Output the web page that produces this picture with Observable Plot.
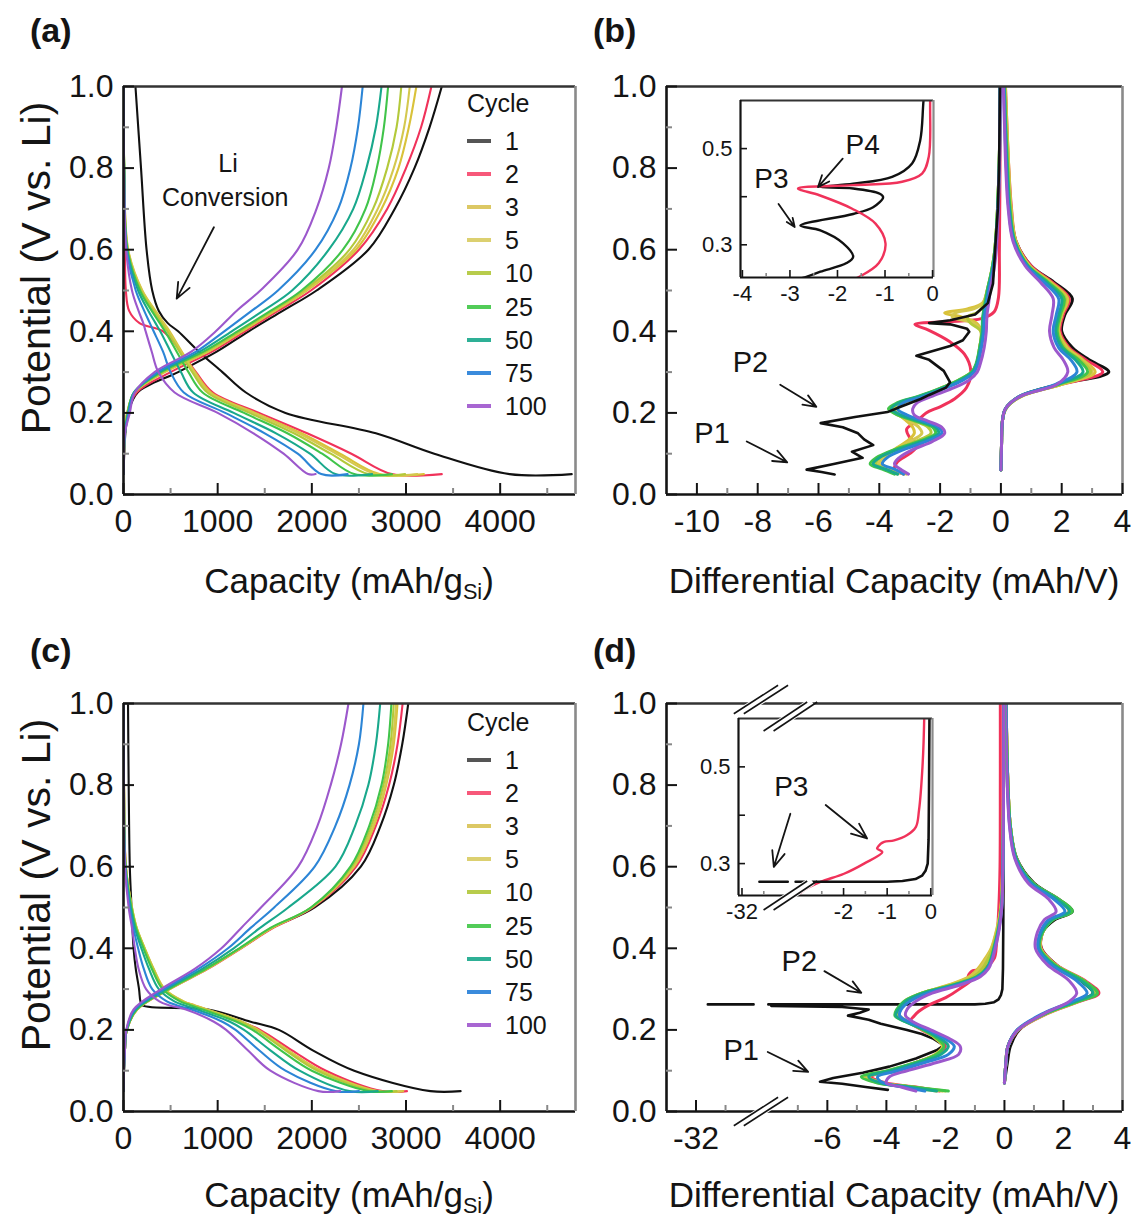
<!DOCTYPE html>
<html><head><meta charset="utf-8">
<script src="https://cdn.jsdelivr.net/npm/d3@7"></script>
<script src="https://cdn.jsdelivr.net/npm/@observablehq/plot@0.6"></script>
<style>
body{margin:0;background:#fff;}
#root{position:relative;width:1134px;height:1221px;overflow:hidden;font-family:"Liberation Sans",Arial,Helvetica,sans-serif;color:#141414;}
.abs{position:absolute;white-space:nowrap;line-height:1;}
.plab{font-weight:bold;font-size:34px;}
.xt{font-size:35px;transform:translateX(-50%);}
.xt sub{font-size:0.62em;vertical-align:-0.28em;line-height:0;}
.yt{font-size:41px;transform:translate(-50%,-50%) rotate(-90deg);}
.lg{font-size:25px;transform:translateY(-50%);}
.sw{position:absolute;height:4px;width:24px;transform:translateY(-50%);}
svg{position:absolute;}
</style></head><body><div id="root"></div>
<script>
// ---------------- data ----------------
const CYCLES = [1, 2, 3, 5, 10, 25, 50, 75, 100];
const COLORS = ["#111111", "#f0325a", "#d9c23a", "#d4c84e", "#b3c93a", "#40c44a", "#19a88c", "#2c85d6", "#9c58cc"];
const LEGEND_COLORS = ["#555555", "#f7587a", "#dcc864", "#dcd070", "#b8cc4c", "#52cc58", "#2eb096", "#3a8bdc", "#a866d2"];

// (a) capacity, lithiation: capacity (mAh/g) at each potential, then the hold at 0.05 V
const A_LITH_V = [1.0, 0.8, 0.6, 0.5, 0.45, 0.42, 0.4, 0.35, 0.3, 0.25, 0.2, 0.15, 0.1, 0.05];
const A_LITH_CAP = [
  [127, 186, 245, 305, 375, 470, 580, 800, 1050, 1300, 1720, 2680, 3300, 4100],
  [0, 5, 15, 25, 60, 170, 420, 610, 770, 950, 1440, 1950, 2420, 2850],
  [0, 8, 50, 200, 340, 430, 490, 620, 760, 930, 1400, 1890, 2300, 2720],
  [0, 8, 48, 195, 335, 420, 480, 610, 750, 915, 1380, 1860, 2260, 2680],
  [0, 8, 45, 185, 320, 405, 465, 595, 730, 890, 1340, 1810, 2200, 2600],
  [0, 8, 42, 175, 300, 385, 440, 565, 690, 840, 1280, 1740, 2110, 2450],
  [0, 7, 38, 155, 265, 340, 390, 500, 610, 740, 1170, 1620, 1980, 2250],
  [0, 6, 33, 130, 220, 280, 320, 420, 500, 640, 1080, 1500, 1850, 2100],
  [0, 5, 28, 90, 160, 210, 235, 300, 370, 543, 1000, 1380, 1700, 1960]
];
const A_LITH_HOLD = [4760, 3380, 3190, 3120, 2990, 2850, 2640, 2380, 2040];
const A_DELI_V = [0.05, 0.1, 0.15, 0.2, 0.25, 0.3, 0.35, 0.4, 0.45, 0.5, 0.6, 0.7, 0.8, 0.9, 1.0];
const A_DELI_CAP = [
  [0, 8, 20, 50, 150, 580, 990, 1330, 1690, 2050, 2600, 2880, 3090, 3250, 3380],
  [0, 6, 15, 40, 140, 500, 940, 1290, 1640, 1990, 2500, 2800, 3000, 3160, 3270],
  [0, 5, 15, 40, 120, 440, 900, 1260, 1610, 1950, 2470, 2740, 2920, 3030, 3110],
  [0, 5, 15, 40, 120, 430, 890, 1250, 1600, 1935, 2440, 2700, 2870, 2980, 3040],
  [0, 5, 15, 40, 115, 420, 870, 1235, 1580, 1915, 2400, 2650, 2800, 2900, 2950],
  [0, 5, 15, 45, 110, 400, 850, 1210, 1560, 1890, 2330, 2570, 2690, 2765, 2810],
  [0, 5, 15, 50, 110, 380, 810, 1150, 1480, 1790, 2180, 2440, 2580, 2680, 2740],
  [0, 5, 15, 55, 115, 360, 770, 1070, 1360, 1640, 2040, 2280, 2410, 2490, 2540],
  [0, 5, 15, 67, 120, 330, 720, 980, 1200, 1453, 1850, 2050, 2180, 2260, 2320]
];

// (c) capacity
const C_LITH_V = [1.0, 0.8, 0.6, 0.5, 0.45, 0.4, 0.35, 0.3, 0.27, 0.26, 0.25, 0.22, 0.2, 0.15, 0.1, 0.05];
const C_LITH_CAP = [
  [48, 55, 67, 85, 95, 107, 130, 165, 180, 200, 900, 1350, 1650, 2010, 2450, 3260],
  [0, 5, 25, 85, 135, 220, 315, 430, 630, 750, 880, 1250, 1450, 1790, 2150, 2750],
  [0, 5, 25, 90, 140, 226, 320, 440, 640, 760, 890, 1260, 1430, 1750, 2100, 2700],
  [0, 5, 25, 90, 140, 225, 318, 435, 635, 750, 880, 1250, 1420, 1740, 2080, 2680],
  [0, 5, 24, 88, 138, 222, 314, 430, 625, 740, 870, 1240, 1410, 1720, 2060, 2650],
  [0, 5, 22, 84, 132, 212, 300, 415, 600, 715, 840, 1200, 1370, 1670, 2000, 2600],
  [0, 4, 20, 76, 120, 190, 270, 375, 540, 650, 780, 1130, 1280, 1560, 1870, 2400],
  [0, 4, 18, 66, 105, 155, 215, 305, 460, 570, 720, 1050, 1190, 1440, 1720, 2250],
  [0, 3, 15, 55, 90, 120, 160, 240, 380, 490, 663, 960, 1090, 1320, 1560, 2070]
];
const C_LITH_HOLD = [3580, 3010, 2970, 2950, 2900, 2850, 2700, 2500, 2300];
const C_DELI_V = [0.05, 0.1, 0.15, 0.2, 0.25, 0.3, 0.35, 0.4, 0.45, 0.5, 0.6, 0.7, 0.8, 0.9, 1.0];
const C_DELI_CAP = [
  [0, 5, 15, 35, 140, 470, 880, 1240, 1580, 2030, 2520, 2730, 2870, 2960, 3024],
  [0, 5, 15, 35, 145, 490, 900, 1250, 1590, 2010, 2470, 2680, 2820, 2910, 2964],
  [0, 5, 15, 35, 145, 490, 895, 1245, 1580, 2000, 2450, 2660, 2790, 2870, 2910],
  [0, 5, 15, 35, 145, 485, 890, 1240, 1575, 1995, 2440, 2650, 2780, 2855, 2895],
  [0, 5, 15, 35, 142, 482, 885, 1235, 1568, 1992, 2425, 2630, 2760, 2835, 2870],
  [0, 5, 15, 35, 140, 480, 880, 1230, 1560, 1990, 2410, 2610, 2740, 2810, 2845],
  [0, 5, 15, 33, 130, 455, 840, 1170, 1450, 1750, 2250, 2460, 2600, 2680, 2726],
  [0, 5, 15, 31, 118, 430, 800, 1110, 1350, 1600, 2030, 2250, 2400, 2500, 2548],
  [0, 5, 15, 30, 107, 400, 760, 1040, 1250, 1460, 1855, 2060, 2200, 2310, 2389]
];

// (b) differential capacity, delithiation (positive), all cycles
const B_DELI_V = [0.06, 0.12, 0.18, 0.21, 0.24, 0.27, 0.3, 0.33, 0.36, 0.4, 0.44, 0.48, 0.52, 0.56, 0.62, 0.7, 0.8, 0.9, 1.0];
const B_DELI_Q = [
  [0.0, 0.02, 0.05, 0.15, 0.6, 1.9, 3.55, 2.9, 2.35, 2.0, 2.1, 2.35, 1.75, 1.0, 0.5, 0.32, 0.22, 0.16, 0.12],
  [0.0, 0.02, 0.05, 0.16, 0.65, 2.0, 3.35, 2.8, 2.25, 1.95, 2.05, 2.25, 1.7, 1.0, 0.5, 0.35, 0.26, 0.2, 0.15],
  [0.0, 0.02, 0.05, 0.16, 0.65, 2.0, 3.1, 2.7, 2.2, 1.9, 2.0, 2.2, 1.65, 0.95, 0.5, 0.34, 0.26, 0.2, 0.15],
  [0.0, 0.02, 0.05, 0.16, 0.65, 2.0, 3.0, 2.65, 2.15, 1.9, 2.0, 2.15, 1.6, 0.95, 0.48, 0.33, 0.25, 0.19, 0.14],
  [0.0, 0.02, 0.05, 0.16, 0.65, 1.95, 2.95, 2.6, 2.1, 1.88, 1.98, 2.12, 1.6, 0.92, 0.47, 0.32, 0.24, 0.18, 0.13],
  [0.0, 0.02, 0.05, 0.15, 0.62, 1.9, 2.85, 2.55, 2.05, 1.85, 1.95, 2.08, 1.55, 0.9, 0.46, 0.3, 0.22, 0.16, 0.12],
  [0.0, 0.02, 0.05, 0.15, 0.6, 1.85, 2.7, 2.45, 2.0, 1.8, 1.9, 2.0, 1.5, 0.88, 0.45, 0.28, 0.2, 0.15, 0.11],
  [0.0, 0.02, 0.05, 0.15, 0.6, 1.8, 2.5, 2.3, 1.9, 1.72, 1.82, 1.9, 1.42, 0.85, 0.42, 0.26, 0.18, 0.13, 0.1],
  [0.0, 0.02, 0.05, 0.15, 0.62, 1.85, 2.2, 2.05, 1.75, 1.6, 1.68, 1.72, 1.3, 0.8, 0.4, 0.24, 0.16, 0.12, 0.08]
];
// (b) lithiation (negative), cycles 3..100 on a common potential grid
const B_LITH_CYCLES = [3, 5, 10, 25, 50, 75, 100];
const B_LITH_V = [1.0, 0.8, 0.6, 0.55, 0.5, 0.47, 0.455, 0.445, 0.435, 0.42, 0.4, 0.36, 0.32, 0.3, 0.28, 0.26, 0.24, 0.225, 0.21, 0.195, 0.18, 0.165, 0.15, 0.13, 0.11, 0.09, 0.075, 0.062, 0.05];
const B_LITH_Q = [
  [-0.03, -0.06, -0.2, -0.3, -0.45, -0.6, -1.1, -1.85, -1.3, -0.8, -0.65, -0.7, -0.8, -0.95, -1.35, -1.95, -2.6, -3.2, -3.5, -3.35, -3.1, -2.9, -2.85, -3.1, -3.5, -3.8, -3.9, -3.6, -3.1],
  [-0.03, -0.06, -0.2, -0.3, -0.45, -0.58, -0.9, -1.5, -1.6, -0.9, -0.65, -0.7, -0.8, -0.95, -1.38, -2.0, -2.65, -3.3, -3.6, -3.35, -3.0, -2.7, -2.6, -3.0, -3.5, -3.9, -4.0, -3.7, -3.2],
  [-0.03, -0.06, -0.2, -0.3, -0.45, -0.55, -0.65, -0.8, -1.1, -1.0, -0.66, -0.7, -0.8, -0.96, -1.4, -2.0, -2.7, -3.35, -3.65, -3.4, -2.85, -2.4, -2.3, -2.8, -3.5, -4.0, -4.1, -3.8, -3.4],
  [-0.03, -0.06, -0.2, -0.3, -0.45, -0.52, -0.56, -0.58, -0.6, -0.61, -0.62, -0.7, -0.82, -0.96, -1.4, -2.0, -2.75, -3.4, -3.7, -3.4, -2.8, -2.25, -2.15, -2.7, -3.5, -4.1, -4.3, -3.9, -3.5],
  [-0.03, -0.06, -0.19, -0.29, -0.43, -0.5, -0.54, -0.56, -0.58, -0.59, -0.6, -0.68, -0.8, -0.93, -1.35, -1.95, -2.7, -3.35, -3.6, -3.3, -2.7, -2.15, -2.05, -2.6, -3.4, -4.0, -4.2, -3.8, -3.4],
  [-0.03, -0.05, -0.17, -0.26, -0.4, -0.46, -0.5, -0.52, -0.54, -0.55, -0.56, -0.64, -0.76, -0.88, -1.25, -1.85, -2.55, -3.2, -3.4, -3.1, -2.55, -2.05, -1.95, -2.45, -3.2, -3.75, -3.9, -3.5, -3.2],
  [-0.02, -0.05, -0.15, -0.23, -0.35, -0.4, -0.43, -0.45, -0.46, -0.47, -0.48, -0.55, -0.68, -0.78, -1.05, -1.6, -2.3, -2.75, -2.9, -2.85, -2.4, -1.95, -1.85, -2.25, -2.9, -3.35, -3.5, -3.3, -3.04]
];
// (b) lithiation, cycle 1 and cycle 2: [potential, dQ/dV]
const B_LITH_C1 = [[1.0,-0.03],[0.8,-0.06],[0.7,-0.1],[0.6,-0.19],[0.517,-0.26],[0.469,-0.43],[0.441,-0.85],[0.427,-1.67],[0.42,-2.36],[0.417,-1.67],[0.406,-1.11],[0.399,-1.04],[0.378,-1.25],[0.364,-1.67],[0.34,-2.78],[0.33,-2.36],[0.303,-1.88],[0.275,-1.67],[0.262,-1.81],[0.244,-2.36],[0.234,-2.64],[0.215,-3.3],[0.202,-3.73],[0.19,-4.8],[0.175,-5.93],[0.165,-5.2],[0.15,-4.7],[0.135,-4.5],[0.121,-4.2],[0.105,-4.9],[0.09,-4.55],[0.075,-5.5],[0.061,-6.39],[0.055,-5.9],[0.049,-5.47]];
const B_LITH_C2 = [[1.0,-0.02],[0.8,-0.03],[0.6,-0.05],[0.483,-0.08],[0.448,-0.22],[0.431,-0.64],[0.424,-1.67],[0.417,-2.83],[0.403,-2.38],[0.375,-1.69],[0.344,-1.2],[0.303,-0.99],[0.262,-1.13],[0.234,-1.53],[0.215,-2.0],[0.2,-2.46],[0.18,-2.75],[0.16,-3.1],[0.14,-3.0],[0.12,-2.75],[0.1,-3.0],[0.08,-3.4],[0.062,-3.5],[0.05,-3.2]];

// (d) differential capacity
const D_DELI_V = [0.07, 0.12, 0.16, 0.2, 0.24, 0.27, 0.29, 0.32, 0.36, 0.4, 0.44, 0.47, 0.49, 0.52, 0.56, 0.62, 0.7, 0.8, 0.9, 1.0];
const D_DELI_Q = [
  [0.0, 0.1, 0.2, 0.5, 1.35, 2.4, 3.0, 2.6, 1.75, 1.25, 1.3, 1.7, 2.3, 1.85, 1.0, 0.42, 0.2, 0.12, 0.08, 0.05],
  [0.0, 0.05, 0.12, 0.48, 1.45, 2.55, 3.2, 2.75, 1.75, 1.25, 1.3, 1.6, 2.2, 1.8, 0.95, 0.4, 0.2, 0.12, 0.08, 0.06],
  [0.0, 0.05, 0.12, 0.46, 1.42, 2.5, 3.1, 2.7, 1.72, 1.22, 1.3, 1.6, 2.2, 1.8, 0.95, 0.4, 0.2, 0.12, 0.08, 0.06],
  [0.0, 0.05, 0.12, 0.46, 1.42, 2.5, 3.1, 2.7, 1.72, 1.22, 1.3, 1.62, 2.25, 1.82, 0.96, 0.4, 0.2, 0.12, 0.08, 0.06],
  [0.0, 0.05, 0.12, 0.46, 1.42, 2.5, 3.1, 2.7, 1.72, 1.22, 1.3, 1.63, 2.25, 1.83, 0.96, 0.4, 0.2, 0.12, 0.08, 0.06],
  [0.0, 0.05, 0.12, 0.45, 1.4, 2.5, 3.15, 2.7, 1.7, 1.2, 1.3, 1.65, 2.3, 1.85, 0.97, 0.41, 0.2, 0.12, 0.08, 0.06],
  [0.0, 0.05, 0.12, 0.44, 1.36, 2.4, 3.0, 2.6, 1.65, 1.18, 1.27, 1.6, 2.2, 1.78, 0.93, 0.39, 0.19, 0.11, 0.07, 0.05],
  [0.0, 0.05, 0.12, 0.43, 1.3, 2.3, 2.8, 2.45, 1.58, 1.14, 1.22, 1.5, 2.05, 1.68, 0.88, 0.37, 0.18, 0.1, 0.07, 0.05],
  [0.0, 0.05, 0.12, 0.45, 1.35, 2.2, 2.45, 2.2, 1.45, 1.05, 1.12, 1.35, 1.75, 1.5, 0.8, 0.35, 0.17, 0.1, 0.06, 0.04]
];
const D_LITH_CYCLES = [3, 5, 10, 25, 50, 75, 100];
const D_LITH_V = [1.0, 0.8, 0.6, 0.5, 0.45, 0.4, 0.37, 0.35, 0.33, 0.31, 0.29, 0.27, 0.25, 0.235, 0.22, 0.2, 0.18, 0.16, 0.14, 0.12, 0.1, 0.085, 0.07, 0.06, 0.05];
const D_LITH_Q = [
  [-0.02, -0.03, -0.06, -0.12, -0.25, -0.45, -0.7, -0.9, -1.2, -1.9, -2.8, -3.35, -3.55, -3.55, -3.25, -2.75, -2.35, -2.1, -2.35, -3.0, -3.85, -4.6, -4.1, -3.2, -2.3],
  [-0.02, -0.03, -0.06, -0.12, -0.24, -0.43, -0.65, -0.85, -1.15, -1.85, -2.8, -3.37, -3.58, -3.6, -3.28, -2.75, -2.33, -2.08, -2.33, -3.0, -3.9, -4.7, -4.2, -3.15, -2.1],
  [-0.02, -0.03, -0.06, -0.11, -0.22, -0.4, -0.58, -0.75, -1.05, -1.8, -2.8, -3.4, -3.62, -3.66, -3.3, -2.75, -2.32, -2.06, -2.32, -3.0, -3.95, -4.8, -4.25, -3.1, -2.0],
  [-0.02, -0.03, -0.05, -0.1, -0.2, -0.36, -0.48, -0.62, -0.95, -1.75, -2.8, -3.4, -3.65, -3.71, -3.35, -2.75, -2.3, -2.05, -2.3, -3.0, -3.95, -4.85, -4.3, -3.1, -1.9],
  [-0.02, -0.03, -0.05, -0.1, -0.19, -0.35, -0.46, -0.6, -0.92, -1.7, -2.75, -3.35, -3.6, -3.68, -3.35, -2.7, -2.2, -1.9, -2.15, -2.9, -3.85, -4.6, -4.2, -3.3, -2.3],
  [-0.02, -0.03, -0.05, -0.09, -0.18, -0.33, -0.44, -0.57, -0.88, -1.6, -2.6, -3.2, -3.5, -3.55, -3.25, -2.6, -2.05, -1.7, -1.9, -2.7, -3.6, -4.3, -4.1, -3.4, -2.7],
  [-0.02, -0.03, -0.05, -0.09, -0.17, -0.31, -0.42, -0.54, -0.82, -1.5, -2.45, -3.0, -3.3, -3.35, -3.1, -2.5, -1.9, -1.5, -1.55, -2.3, -3.3, -3.9, -4.0, -3.5, -3.0]
];
// cycle 1 in (d): the spike at 0.26 V runs out to about -32 mAh/V (null = gap in the trace)
const D_LITH_C1 = [[1.0,-0.03],[0.8,-0.03],[0.6,-0.03],[0.45,-0.04],[0.35,-0.05],[0.3,-0.07],[0.285,-0.12],[0.275,-0.2],[0.268,-0.35],[0.264,-0.65],[0.2625,-1.0],[0.2625,-3.1],[0.2625,-8.0],[0.2625,null],[0.2625,-30.05],[0.2625,-30.95],[0.2625,-31.6],[0.26,null],[0.259,-7.9],[0.256,-5.5],[0.25,-4.6],[0.242,-4.9],[0.235,-5.3],[0.225,-4.6],[0.215,-4.19],[0.2,-3.3],[0.19,-2.8],[0.178,-2.4],[0.162,-2.05],[0.15,-2.3],[0.13,-3.0],[0.11,-3.9],[0.095,-4.8],[0.082,-5.8],[0.073,-6.25],[0.068,-5.5],[0.06,-4.7],[0.053,-3.95]];
const D_LITH_C2 = [[1.0,-0.14],[0.8,-0.14],[0.6,-0.15],[0.5,-0.19],[0.41,-0.27],[0.376,-0.34],[0.359,-0.54],[0.348,-0.84],[0.345,-1.07],[0.34,-1.16],[0.331,-1.23],[0.324,-1.11],[0.3,-1.53],[0.279,-1.99],[0.262,-2.53],[0.245,-2.91],[0.234,-3.06],[0.22,-3.2],[0.2,-2.8],[0.18,-2.3],[0.16,-2.0],[0.14,-2.3],[0.12,-3.0],[0.1,-3.85],[0.085,-4.5],[0.07,-4.0],[0.06,-3.0],[0.05,-2.2]];

// tick values and labels
const Y_MAJOR = [0, 0.2, 0.4, 0.6, 0.8, 1.0];
const Y_MINOR = [0.1, 0.3, 0.5, 0.7, 0.9];
const CAP_MAJOR = [0, 1000, 2000, 3000, 4000];
const CAP_MINOR = [500, 1500, 2500, 3500, 4500];
const B_MAJOR = [-10, -8, -6, -4, -2, 0, 2, 4];
const B_MINOR = [-9, -7, -5, -3, -1, 1, 3];
const D_MAJOR = [-32, -6, -4, -2, 0, 2, 4];
const D_MINOR = [-31, -7, -5, -3, -1, 1, 3];
const BI_MAJOR = [-4, -3, -2, -1, 0];
const BI_MINOR = [-3.5, -2.5, -1.5, -0.5];
const DI_MAJOR = [-32, -2, -1, 0];
const DI_MINOR = [-31.5, -2.5, -1.5, -0.5];
const INSET_Y = [0.3, 0.4, 0.5];
const INSET_Y_LABELS = ["0.3", "", "0.5"];

// annotations
const A_TEXT = [{t: "Li", x: 1110, y: 0.81}, {t: "Conversion", x: 1080, y: 0.727}];
const A_ARROWS = [{x1: 960, y1: 0.655, x2: 565, y2: 0.48}];
const B_TEXT = [{t: "P2", x: -8.24, y: 0.322}, {t: "P1", x: -9.5, y: 0.15}];
const B_ARROWS = [{x1: -7.26, y1: 0.269, x2: -6.07, y2: 0.215}, {x1: -8.36, y1: 0.13, x2: -7.03, y2: 0.079}];
const BI_TEXT = [{t: "P4", x: -1.47, y: 0.507}, {t: "P3", x: -3.39, y: 0.437}];
const BI_ARROWS = [{x1: -1.89, y1: 0.479, x2: -2.41, y2: 0.42}, {x1: -3.24, y1: 0.385, x2: -2.9, y2: 0.337}];
const D_TEXT = [{t: "P2", x: -6.95, y: 0.368}, {t: "P1", x: -8.92, y: 0.15}];
const D_ARROWS = [{x1: -6.1, y1: 0.344, x2: -4.85, y2: 0.291}, {x1: -8.02, y1: 0.146, x2: -6.65, y2: 0.097}];
const DI_TEXT = [{t: "P3", x: -3.2, y: 0.459}];
const DI_ARROWS = [{x1: -3.22, y1: 0.403, x2: -3.6, y2: 0.293}, {x1: -2.41, y1: 0.421, x2: -1.46, y2: 0.352}];

// ---------------- helpers ----------------
const FONT = '"Liberation Sans", Arial, Helvetica, sans-serif';
const INK = "#141414";
// broken-axis positions for (d) and its inset
const mainD = v => (v == null ? NaN : v <= -20 ? v + 21.55 : v);
const insetD = v => (v == null ? NaN : v <= -30.9 ? v + 27.67 : v < -3.12 ? NaN : v);

function capRows(LV, LQ, HOLD, DV, DQ) {
  const rows = [];
  CYCLES.forEach((c, i) => {
    LV.forEach((v, j) => rows.push({id: "L" + c, cycle: c, q: LQ[i][j], v}));
    rows.push({id: "L" + c, cycle: c, q: HOLD[i], v: LV[LV.length - 1]});
    DV.forEach((v, j) => rows.push({id: "D" + c, cycle: c, q: DQ[i][j], v}));
  });
  return rows;
}
function gridRows(prefix, V, Q, cycles) {
  const rows = [];
  Q.forEach((arr, i) => arr.forEach((q, j) => rows.push({id: prefix + cycles[i], cycle: cycles[i], q, v: V[j]})));
  return rows;
}
const pairRows = (id, cycle, pairs) => pairs.map(([v, q]) => ({id, cycle, q, v}));

function axisMarks({xMajor, xMinor, xFmt, yMajor, yMinor, yFmt, fs, majLen, minLen, padX, padY, sw}) {
  return [
    Plot.axisX({ticks: xMinor, tickSize: -minLen, tickFormat: () => "", stroke: "#888", strokeWidth: sw, label: null}),
    Plot.axisX({ticks: xMajor, tickSize: -majLen, tickFormat: () => "", stroke: INK, strokeWidth: sw, label: null}),
    Plot.axisX({ticks: xMajor, tickSize: 0, tickPadding: padX, tickFormat: xFmt, fontSize: fs, fill: INK, label: null}),
    Plot.axisY({ticks: yMinor, tickSize: -minLen, tickFormat: () => "", stroke: "#888", strokeWidth: sw, label: null}),
    Plot.axisY({ticks: yMajor, tickSize: -majLen, tickFormat: () => "", stroke: INK, strokeWidth: sw, label: null}),
    Plot.axisY({ticks: yMajor, tickSize: 0, tickPadding: padY, tickFormat: yFmt, fontSize: fs, fill: INK, label: null})
  ];
}
function frameMarks(xd, yd, w) {
  return [
    Plot.ruleY([yd[0]], {stroke: INK, strokeWidth: w}),
    Plot.ruleY([yd[1]], {stroke: "#333", strokeWidth: w}),
    Plot.ruleX([xd[0]], {stroke: INK, strokeWidth: w}),
    Plot.ruleX([xd[1]], {stroke: "#8a8a8a", strokeWidth: w})
  ];
}
function breakMarks(x, y, hw, hh, dy = 0) {
  const seg = [{x1: x - hw, y1: y - hh, x2: x + hw, y2: y + hh}];
  const o = {x1: "x1", y1: "y1", x2: "x2", y2: "y2", dy};
  return [
    Plot.link(seg, {...o, stroke: "white", strokeWidth: 9}),
    Plot.link(seg, {...o, stroke: INK, strokeWidth: 1.6, dx: -5}),
    Plot.link(seg, {...o, stroke: INK, strokeWidth: 1.6, dx: 5})
  ];
}
function noteMarks(texts, arrows, fs) {
  return [
    Plot.text(texts, {x: "x", y: "y", text: "t", fontSize: fs, fill: INK}),
    Plot.arrow(arrows, {x1: "x1", y1: "y1", x2: "x2", y2: "y2", stroke: INK, strokeWidth: 1.8, headLength: 14, headAngle: 45})
  ];
}
const fmt1 = d => d.toFixed(1);

function mainPlot({xDomain, xMajor, xMinor, xFmt, marks, width, mL, mR, extra = []}) {
  return Plot.plot({
    width, height: 580, marginLeft: mL, marginRight: mR, marginTop: 46, marginBottom: 126,
    x: {domain: xDomain}, y: {domain: [0, 1]},
    color: {domain: CYCLES, range: COLORS},
    style: {fontFamily: FONT, color: INK, background: "transparent", overflow: "visible"},
    marks: [
      ...marks,
      ...frameMarks(xDomain, [0, 1], 2.6),
      ...axisMarks({xMajor, xMinor, xFmt, yMajor: Y_MAJOR, yMinor: Y_MINOR, yFmt: fmt1, fs: 32, majLen: 11, minLen: 6, padX: 15, padY: 10, sw: 2}),
      ...extra
    ]
  });
}
function insetPlot({xDomain, yDomain, xMajor, xMinor, xFmt, marks, width, height, mL, mR, mT, mB, extra = []}) {
  return Plot.plot({
    width, height, marginLeft: mL, marginRight: mR, marginTop: mT, marginBottom: mB,
    x: {domain: xDomain}, y: {domain: yDomain},
    color: {domain: CYCLES, range: COLORS},
    style: {fontFamily: FONT, color: INK, background: "transparent", overflow: "visible"},
    marks: [
      Plot.frame({fill: "white", stroke: null}),
      ...marks,
      ...frameMarks(xDomain, yDomain, 2.2),
      ...axisMarks({xMajor, xMinor, xFmt, yMajor: INSET_Y, yMinor: [], yFmt: d => INSET_Y_LABELS[INSET_Y.indexOf(d)], fs: 22, majLen: 7, minLen: 4, padX: 8, padY: 8, sw: 1.6}),
      ...extra
    ]
  });
}
const capLine = rows => Plot.line(rows, {x: "q", y: "v", z: "id", stroke: "cycle", strokeWidth: 2.1, curve: "catmull-rom", clip: true});

// ---------------- build ----------------
const root = document.getElementById("root");
function place(svg, left, top) { svg.style.left = left + "px"; svg.style.top = top + "px"; root.appendChild(svg); }
function div(cls, html, left, top, extraStyle = "") {
  const d = document.createElement("div");
  d.className = "abs " + cls; d.innerHTML = html;
  d.style.cssText += `left:${left}px;top:${top}px;${extraStyle}`;
  root.appendChild(d); return d;
}

// (a)
place(mainPlot({
  xDomain: [0, 4800], xMajor: CAP_MAJOR, xMinor: CAP_MINOR, xFmt: d => String(d), width: 585, mL: 123, mR: 10,
  marks: [capLine(capRows(A_LITH_V, A_LITH_CAP, A_LITH_HOLD, A_DELI_V, A_DELI_CAP))],
  extra: noteMarks(A_TEXT, A_ARROWS, 25)
}), 0, 40);

// (c)
place(mainPlot({
  xDomain: [0, 4800], xMajor: CAP_MAJOR, xMinor: CAP_MINOR, xFmt: d => String(d), width: 585, mL: 123, mR: 10,
  marks: [capLine(capRows(C_LITH_V, C_LITH_CAP, C_LITH_HOLD, C_DELI_V, C_DELI_CAP))]
}), 0, 657);

// (b)
const bColored = [
  ...gridRows("D", B_DELI_V, B_DELI_Q, CYCLES),
  ...pairRows("L2", 2, B_LITH_C2),
  ...gridRows("L", B_LITH_V, B_LITH_Q, B_LITH_CYCLES)
];
const bBlack = pairRows("L1", 1, B_LITH_C1);
place(mainPlot({
  xDomain: [-11, 4], xMajor: B_MAJOR, xMinor: B_MINOR, xFmt: d => String(d), width: 570, mL: 106, mR: 8,
  marks: [
    Plot.line(bColored, {x: "q", y: "v", z: "id", stroke: "cycle", strokeWidth: 3, curve: "catmull-rom", clip: true}),
    Plot.line(bBlack, {x: "q", y: "v", z: "id", stroke: "cycle", strokeWidth: 2.6, curve: "linear", clip: true})
  ],
  extra: noteMarks(B_TEXT, B_ARROWS, 29)
}), 560, 40);

// (b) inset
place(insetPlot({
  xDomain: [-4.04, 0.02], yDomain: [0.232, 0.6], xMajor: BI_MAJOR, xMinor: BI_MINOR, xFmt: d => String(d),
  width: 262, height: 226, mL: 50, mR: 19, mT: 10, mB: 39,
  marks: [
    Plot.line(bBlack, {x: "q", y: "v", z: "id", stroke: "cycle", strokeWidth: 2.4, curve: "catmull-rom", clip: true}),
    Plot.line(pairRows("L2", 2, B_LITH_C2), {x: "q", y: "v", z: "id", stroke: "cycle", strokeWidth: 2.4, curve: "catmull-rom", clip: true})
  ],
  extra: noteMarks(BI_TEXT, BI_ARROWS, 28)
}), 690, 90);

// (d)
const dColored = [
  ...gridRows("D", D_DELI_V, D_DELI_Q, CYCLES),
  ...pairRows("L2", 2, D_LITH_C2),
  ...gridRows("L", D_LITH_V, D_LITH_Q, D_LITH_CYCLES)
];
const dBlack = pairRows("L1", 1, D_LITH_C1);
const dLabel = new Map(D_MAJOR.map(v => [mainD(v), String(v)]));
place(mainPlot({
  xDomain: [-11.45, 4], xMajor: D_MAJOR.map(mainD), xMinor: D_MINOR.map(mainD), xFmt: d => dLabel.get(d), width: 570, mL: 106, mR: 8,
  marks: [
    Plot.line(dBlack, {x: d => mainD(d.q), y: "v", z: "id", stroke: "cycle", strokeWidth: 2.6, curve: "linear", clip: true}),
    Plot.line(dColored, {x: d => mainD(d.q), y: "v", z: "id", stroke: "cycle", strokeWidth: 3, curve: "catmull-rom", clip: true})
  ],
  extra: [...breakMarks(-8.25, 0, 0.75, 0.035), ...breakMarks(-8.25, 1, 0.75, 0.035, -4), ...noteMarks(D_TEXT, D_ARROWS, 29)]
}), 560, 657);

// (d) inset
const diLabel = new Map(DI_MAJOR.map(v => [insetD(v), String(v)]));
place(insetPlot({
  xDomain: [-4.41, 0.04], yDomain: [0.234, 0.6], xMajor: DI_MAJOR.map(insetD), xMinor: DI_MINOR.map(insetD), xFmt: d => diLabel.get(d),
  width: 262, height: 236, mL: 50, mR: 18, mT: 18, mB: 41,
  marks: [
    Plot.line(pairRows("L2", 2, D_LITH_C2), {x: d => insetD(d.q), y: "v", z: "id", stroke: "cycle", strokeWidth: 2.4, curve: "catmull-rom", clip: true}),
    Plot.line(dBlack, {x: d => insetD(d.q), y: "v", z: "id", stroke: "cycle", strokeWidth: 2.6, curve: "linear", clip: true})
  ],
  extra: [...breakMarks(-3.22, 0.6, 0.5, 0.03, -2), ...breakMarks(-3.22, 0.234, 0.5, 0.03), ...noteMarks(DI_TEXT, DI_ARROWS, 28)]
}), 688, 700);

// panel letters
div("plab", "(a)", 30, 13);
div("plab", "(b)", 593, 13);
div("plab", "(c)", 30, 633);
div("plab", "(d)", 593, 633);

// axis titles
div("xt", "Capacity (mAh/g<sub>Si</sub>)", 349, 563);
div("xt", "Differential Capacity (mAh/V)", 894, 563);
div("xt", "Capacity (mAh/g<sub>Si</sub>)", 349, 1177);
div("xt", "Differential Capacity (mAh/V)", 894, 1177);
div("yt", "Potential (V vs. Li)", 36, 268);
div("yt", "Potential (V vs. Li)", 36, 885);

// legends
function legend(top) {
  div("lg", "Cycle", 467, top);
  CYCLES.forEach((c, i) => {
    const y = top + 37.5 + i * 33.2;
    const s = document.createElement("div");
    s.className = "sw"; s.style.left = "467px"; s.style.top = y + "px"; s.style.background = LEGEND_COLORS[i];
    root.appendChild(s);
    div("lg", String(c), 505, y);
  });
}
legend(103);
legend(722);
</script></body></html>
